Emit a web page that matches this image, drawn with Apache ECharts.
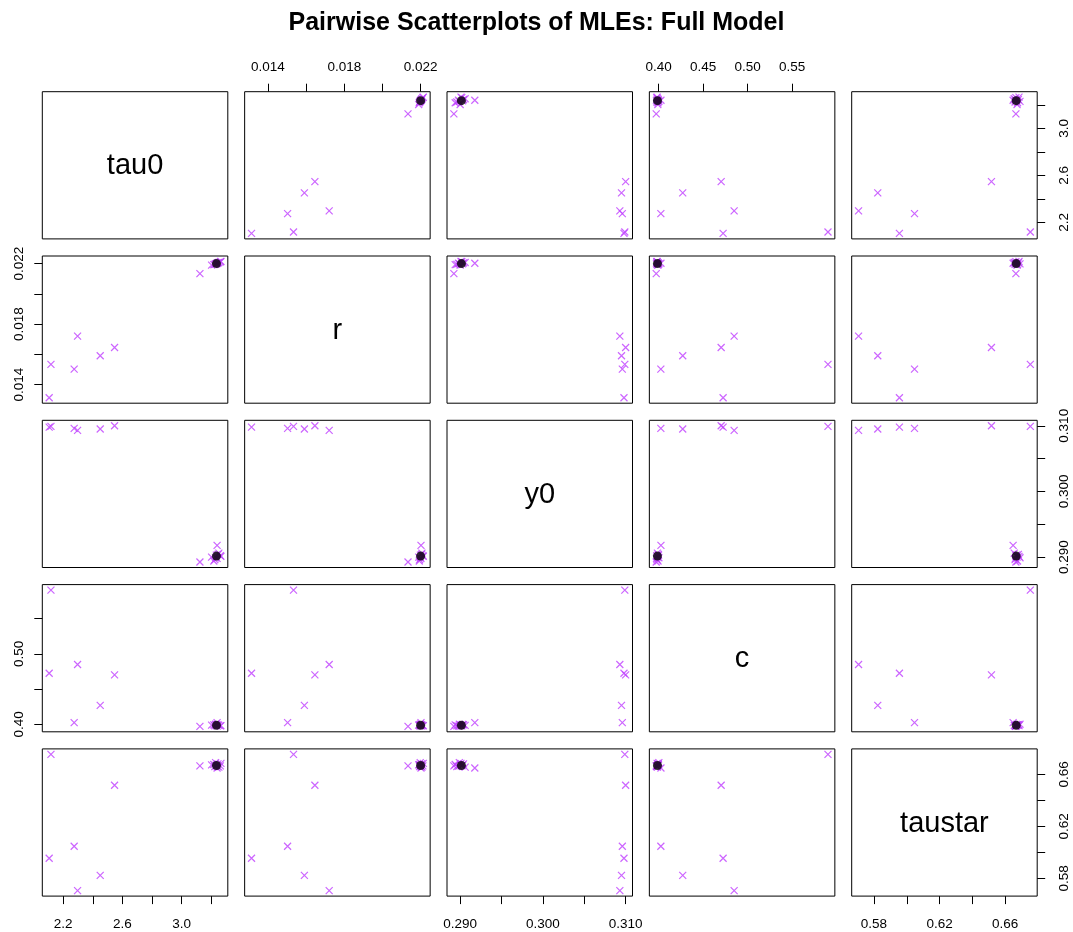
<!DOCTYPE html>
<html>
<head>
<meta charset="utf-8">
<script src="https://cdn.jsdelivr.net/npm/echarts@6/dist/echarts.min.js"></script>
<style>
html,body{margin:0;padding:0;background:#fff;}
#chart{width:1073px;height:932px;}
</style>
</head>
<body>
<div id="chart"></div>
<script>
// ---- data (bootstrap / multi-start MLEs) ----
const varNames = ['tau0', 'r', 'y0', 'c', 'taustar'];
const tau0    = [2.117, 2.105, 2.274, 2.297, 2.450, 2.547, 3.124, 3.240, 3.203, 3.225, 3.246, 3.262, 3.230, 3.252, 3.218, 3.266, 3.240, 3.235];
const r       = [0.01534, 0.01314, 0.01503, 0.01721, 0.01591, 0.01646, 0.02134, 0.02202, 0.02190, 0.02195, 0.02205, 0.02212, 0.02198, 0.02207, 0.02193, 0.02214, 0.02202, 0.02199];
const y0      = [0.3099, 0.3098, 0.3096, 0.3093, 0.3095, 0.3100, 0.28924, 0.29177, 0.2900, 0.2896, 0.2904, 0.2902, 0.2899, 0.2906, 0.2894, 0.2901, 0.2898, 0.2903];
const c       = [0.5903, 0.4724, 0.4024, 0.4848, 0.4270, 0.4702, 0.3972, 0.4025, 0.3990, 0.3980, 0.3995, 0.3978, 0.4002, 0.3985, 0.3992, 0.3982, 0.3975, 0.3998];
const taustar = [0.6753, 0.5955, 0.6047, 0.5706, 0.5823, 0.6516, 0.6665, 0.6648, 0.6672, 0.6660, 0.6680, 0.6665, 0.6690, 0.6655, 0.6675, 0.6684, 0.6662, 0.6670];
// full-model MLE (black dot)
const mleValues = [3.236, 0.02200, 0.29015, 0.3986, 0.6667];

// ---- tick values / labels ----
const tau0Ticks = [2.2, 2.4, 2.6, 2.8, 3.0, 3.2];
const tau0Labels = [2.2, 2.6, 3.0];
const rTicks = [0.014, 0.016, 0.018, 0.020, 0.022];
const rLabels = [0.014, 0.018, 0.022];
const y0Ticks = [0.290, 0.295, 0.300, 0.305, 0.310];
const y0Labels = [0.290, 0.300, 0.310];
const cTicks = [0.40, 0.45, 0.50, 0.55];
const cLabelsX = [0.40, 0.45, 0.50, 0.55];
const cLabelsY = [0.40, 0.50];
const taustarTicks = [0.58, 0.60, 0.62, 0.64, 0.66];
const taustarLabels = [0.58, 0.62, 0.66];

const columns = [tau0, r, y0, c, taustar];
const ticks = [tau0Ticks, rTicks, y0Ticks, cTicks, taustarTicks];
const labelsX = [tau0Labels, rLabels, y0Labels, cLabelsX, taustarLabels];
const labelsY = [tau0Labels, rLabels, y0Labels, cLabelsY, taustarLabels];
const decimals = [1, 3, 3, 2, 2];

// ---- layout / style ----
const FONT = 'Liberation Sans, Arial, Helvetica, sans-serif';
const PURPLE = '#BF3EFF';
const L0 = 42.3, T0 = 91.7, DX = 202.35, DY = 164.3, W = 185.5, H = 147.2;
const N = varNames.length;
const TICK_FONT = 13.5;

function range(arr, extra) {
  const all = arr.concat([extra]);
  const mn = Math.min(...all), mx = Math.max(...all);
  const d = mx - mn;
  return [mn - 0.04 * d, mx + 0.04 * d];
}
const ranges = columns.map((col, k) => range(col, mleValues[k]));

const grids = [], xAxes = [], yAxes = [], series = [], graphics = [];
const cross = 'path://M0,0L10,10M10,0L0,10';

for (let i = 0; i < N; i++) {
  for (let j = 0; j < N; j++) {
    const g = i * N + j;
    grids.push({
      left: L0 + j * DX, top: T0 + i * DY, width: W, height: H,
      show: true, borderColor: '#000', borderWidth: 1, backgroundColor: 'transparent',
      outerBoundsMode: 'none', containLabel: false
    });
    const showBottom = (i === N - 1 && j % 2 === 0);
    const showTop = (i === 0 && j % 2 === 1);
    const showX = showBottom || showTop;
    xAxes.push({
      type: 'value', gridIndex: g, min: ranges[j][0], max: ranges[j][1],
      position: showTop ? 'top' : 'bottom',
      axisLine: { show: false }, splitLine: { show: false },
      axisTick: { show: showX, inside: false, length: 8, customValues: ticks[j], lineStyle: { color: '#000', width: 1 } },
      axisLabel: {
        show: showX, customValues: labelsX[j], margin: showTop ? 17 : 21,
        fontSize: TICK_FONT, fontFamily: FONT, color: '#000',
        formatter: (v => Number(v).toFixed(decimals[j]))
      }
    });
    const showLeft = (j === 0 && i % 2 === 1);
    const showRight = (j === N - 1 && i % 2 === 0);
    const showY = showLeft || showRight;
    yAxes.push({
      type: 'value', gridIndex: g, min: ranges[i][0], max: ranges[i][1],
      position: showRight ? 'right' : 'left',
      axisLine: { show: false }, splitLine: { show: false },
      axisTick: { show: showY, inside: false, length: 8, customValues: ticks[i], lineStyle: { color: '#000', width: 1 } },
      axisLabel: {
        show: showY, customValues: labelsY[i], rotate: 90, margin: showRight ? 20 : 16,
        fontSize: TICK_FONT, fontFamily: FONT, color: '#000',
        formatter: (v => Number(v).toFixed(decimals[i]))
      }
    });
    if (i === j) {
      graphics.push({
        type: 'text', x: L0 + j * DX + W / 2, y: T0 + i * DY + H / 2 + 1,
        style: { text: varNames[i], fill: '#000', fontSize: 29, fontFamily: FONT, align: 'center', verticalAlign: 'middle' }
      });
      continue;
    }
    const xs = columns[j], ys = columns[i];
    series.push({
      type: 'scatter', xAxisIndex: g, yAxisIndex: g, silent: true,
      symbol: cross, symbolSize: 7,
      itemStyle: { color: 'none', borderColor: PURPLE, borderWidth: 1.2 },
      data: xs.map((x, k) => [x, ys[k]])
    });
    series.push({
      type: 'scatter', xAxisIndex: g, yAxisIndex: g, silent: true,
      symbol: 'circle', symbolSize: 9, z: 5,
      itemStyle: { color: '#000' },
      data: [[mleValues[j], mleValues[i]]]
    });
  }
}

const chart = echarts.init(document.getElementById('chart'), null, { renderer: 'canvas' });
chart.setOption({
  animation: false,
  backgroundColor: '#fff',
  title: {
    text: 'Pairwise Scatterplots of MLEs: Full Model', left: 'center', top: 6,
    textStyle: { fontSize: 25, fontWeight: 'bold', fontFamily: FONT, color: '#000' }
  },
  grid: grids, xAxis: xAxes, yAxis: yAxes, series: series, graphic: graphics
});
</script>
</body>
</html>
